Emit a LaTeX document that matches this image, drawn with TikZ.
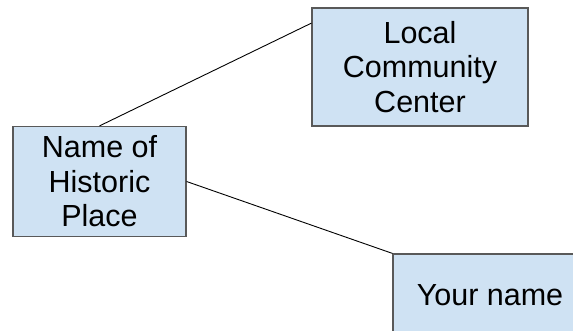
\documentclass[tikz,border=0pt]{standalone}
\usepackage{fontspec}
\setmainfont{Liberation Sans}
\definecolor{boxblue}{HTML}{CFE2F3}
\definecolor{boxline}{HTML}{595959}
\begin{document}
\begin{tikzpicture}[
  x=1pt,y=-1pt,
  every node/.style={font=\fontsize{30.5}{34.5}\selectfont},
  place/.style={rectangle,draw=boxline,fill=boxblue,line width=1.2pt,align=center,inner sep=0pt}
]
\useasboundingbox (0,0) rectangle (573,330);
\clip (0,0) rectangle (573,330);
\node[place,minimum width=173pt,minimum height=110pt] (hist) at (99.5,181.5) {Name of\\Historic\\Place};
\node[place,minimum width=216pt,minimum height=118pt] (cent) at (420,67) {Local\\Community\\Center};
\node[place,minimum width=194pt,minimum height=82pt] (you) at (490,295) {Your name};
\draw[line width=0.9pt] (hist.north) -- (cent.158);
\draw[line width=0.9pt] (hist.east) -- (you.north west);
\end{tikzpicture}
\end{document}
